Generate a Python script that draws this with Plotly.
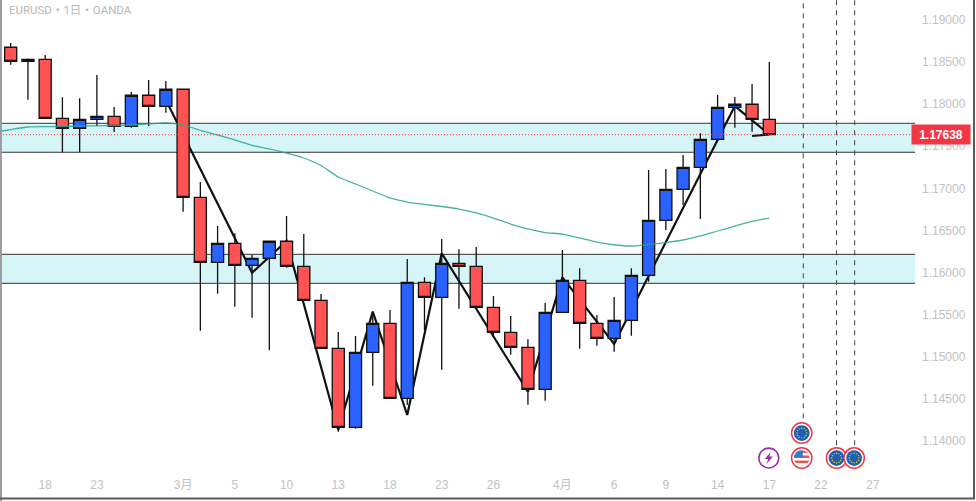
import base64
import math
import plotly.graph_objects as go

title_text = "EURUSD・1日・OANDA"
last_price = 1.17638
last_label = "1.17638"

opens = [1.18676, 1.18509, 1.18533, 1.17832, 1.17714, 1.17820, 1.17856, 1.17737, 1.18106, 1.17975,
         1.18177, 1.16894, 1.16122, 1.16348, 1.16087, 1.16170, 1.16372, 1.16075, 1.15671, 1.15101,
         1.14163, 1.15053, 1.15398, 1.14507, 1.15885, 1.15707, 1.16110, 1.16075, 1.15588, 1.15291,
         1.15113, 1.14614, 1.15528, 1.15908, 1.15398, 1.15220, 1.15433, 1.15968, 1.16621, 1.16989,
         1.17250, 1.17583, 1.17963, 1.17999, 1.17820]
highs = [1.18727, 1.18543, 1.18584, 1.18082, 1.18070, 1.18347, 1.17967, 1.18145, 1.18287, 1.18275,
         1.18177, 1.17076, 1.16553, 1.16467, 1.16209, 1.16372, 1.16672, 1.16458, 1.15746, 1.15294,
         1.15247, 1.15485, 1.15556, 1.16161, 1.15944, 1.16399, 1.16277, 1.16304, 1.15722, 1.15485,
         1.15208, 1.15639, 1.16268, 1.16051, 1.15496, 1.15710, 1.16051, 1.17218, 1.17230, 1.17397,
         1.17654, 1.18109, 1.18085, 1.18240, 1.18501]
lows = [1.18469, 1.18053, 1.17832, 1.17429, 1.17429, 1.17741, 1.17670, 1.17721, 1.17741, 1.17899,
        1.16723, 1.15310, 1.15749, 1.15595, 1.15464, 1.15077, 1.16058, 1.15671, 1.15101, 1.14110,
        1.14146, 1.14657, 1.14507, 1.14428, 1.15318, 1.14847, 1.15571, 1.15588, 1.15239, 1.15025,
        1.14431, 1.14479, 1.15528, 1.15096, 1.15132, 1.15061, 1.15251, 1.15892, 1.16506, 1.16803,
        1.16636, 1.17563, 1.17721, 1.17673, 1.17630]
closes = [1.18509, 1.18533, 1.17832, 1.17714, 1.17820, 1.17856, 1.17737, 1.18106, 1.17975, 1.18177,
          1.16894, 1.16122, 1.16348, 1.16087, 1.16170, 1.16372, 1.16075, 1.15671, 1.15101, 1.14163,
          1.15053, 1.15398, 1.14507, 1.15885, 1.15707, 1.16110, 1.16075, 1.15588, 1.15291, 1.15113,
          1.14614, 1.15528, 1.15908, 1.15398, 1.15220, 1.15433, 1.15968, 1.16621, 1.16989, 1.17250,
          1.17583, 1.17963, 1.17999, 1.17820, 1.17638]
candle_x = list(range(45))

ma_x = [-0.62] + candle_x
ma_values = [1.17678, 1.17699, 1.17729, 1.17733, 1.17735, 1.17741, 1.17743, 1.17747, 1.17753, 1.17765,
             1.17777, 1.17753, 1.17688, 1.17634, 1.17575, 1.17512, 1.17468, 1.17420, 1.17361, 1.17272,
             1.17135, 1.17052, 1.16969, 1.16886, 1.16838, 1.16809, 1.16785, 1.16755, 1.16708, 1.16648,
             1.16577, 1.16518, 1.16476, 1.16458, 1.16411, 1.16363, 1.16331, 1.16316, 1.16334, 1.16355,
             1.16387, 1.16435, 1.16494, 1.16553, 1.16607, 1.16648]

zigzag_x = [9, 14, 16, 19, 21, 23, 25, 30, 32, 35, 42, 44, 43]
zigzag_y = [1.18050, 1.15999, 1.16375, 1.14131, 1.15536, 1.14309, 1.16229, 1.14585, 1.15944, 1.15152,
            1.17978, 1.17640, 1.17622]

band_tops = [1.17773, 1.16217]
band_bottoms = [1.17429, 1.15873]

event_lines_x = [45.97, 47.9, 48.95]
event_lines_bottom = [1.14270, 1.13950, 1.13950]

x_tick_vals = [2, 5, 10, 13, 16, 19, 22, 25, 28, 32, 35, 38, 41, 44, 47, 50]
x_tick_text = ["18", "23", "3月", "5", "10", "13", "18", "23", "26", "4月", "6", "9", "14", "17", "22", "27"]
y_tick_vals = [1.14, 1.145, 1.15, 1.155, 1.16, 1.165, 1.17, 1.175, 1.18, 1.185, 1.19]

icon_kinds = ["eu", "bolt", "us", "eu", "eu"]
icon_x = [45.88, 43.97, 45.88, 47.9, 48.92]
icon_y = [1.14095, 1.13798, 1.13798, 1.13798, 1.13798]

X_RANGE = [-0.62, 52.45]
Y_RANGE = [1.13656, 1.19237]
TICK_COLOR = "#c2c2c2"
FONT = "Liberation Sans, Arial, sans-serif"


def eu_svg():
    stars = ""
    for k in range(12):
        a = k * math.pi / 6
        stars += f'<circle cx="{22 + 9.5 * math.cos(a):.2f}" cy="{22 + 9.5 * math.sin(a):.2f}" r="1.4" fill="#f4d22e"/>'
    return ('<svg xmlns="http://www.w3.org/2000/svg" width="44" height="44" viewBox="0 0 44 44">'
            '<circle cx="22" cy="22" r="20" fill="#fff" stroke="#f23645" stroke-width="3"/>'
            '<circle cx="22" cy="22" r="15.5" fill="#1d5fb0"/>' + stars + '</svg>')


def us_svg():
    stripes = ""
    for k, yy in enumerate(range(7, 38, 5)):
        c = "#ef5350" if k % 2 == 0 else "#ffffff"
        stripes += f'<rect x="6" y="{yy}" width="32" height="5" fill="{c}"/>'
    return ('<svg xmlns="http://www.w3.org/2000/svg" width="44" height="44" viewBox="0 0 44 44">'
            '<defs><clipPath id="c"><circle cx="22" cy="22" r="15.5"/></clipPath></defs>'
            '<circle cx="22" cy="22" r="20" fill="#fff" stroke="#f23645" stroke-width="3"/>'
            '<g clip-path="url(#c)">' + stripes +
            '<rect x="6" y="6" width="18" height="15" fill="#2b7de0"/></g></svg>')


def bolt_svg():
    return ('<svg xmlns="http://www.w3.org/2000/svg" width="44" height="44" viewBox="0 0 44 44">'
            '<circle cx="22" cy="22" r="19.5" fill="#fff" stroke="#9c27b0" stroke-width="3"/>'
            '<path d="M26 10 L14 24 L21 24 L17 34 L30 19 L23 19 Z" fill="#9c27b0"/></svg>')


SVGS = {"eu": eu_svg(), "us": us_svg(), "bolt": bolt_svg()}


def uri(svg):
    return "data:image/svg+xml;base64," + base64.b64encode(svg.encode()).decode()


fig = go.Figure()

fig.add_trace(go.Scatter(x=zigzag_x, y=zigzag_y, mode="lines", xaxis="x", yaxis="y",
                         line=dict(color="#111111", width=2.2), hoverinfo="skip"))
fig.add_trace(go.Candlestick(x=candle_x, open=opens, high=highs, low=lows, close=closes,
                             xaxis="x2", yaxis="y2",
                             increasing=dict(fillcolor="#2962ff", line=dict(color="#111111", width=1.3)),
                             decreasing=dict(fillcolor="#ff5252", line=dict(color="#111111", width=1.3))))
fig.add_trace(go.Scatter(x=ma_x, y=ma_values, mode="lines", xaxis="x2", yaxis="y2",
                         line=dict(color="rgba(38,166,145,0.85)", width=1.3, shape="spline", smoothing=0.6),
                         hoverinfo="skip"))

shapes = []
for top, bottom in zip(band_tops, band_bottoms):
    shapes.append(dict(type="rect", xref="x domain", yref="y", x0=0, x1=1, y0=bottom, y1=top, layer="below",
                       fillcolor="#d6f5f7", line=dict(width=0)))
    for edge in (top, bottom):
        shapes.append(dict(type="line", xref="x domain", yref="y", x0=0, x1=1, y0=edge, y1=edge, layer="below",
                           line=dict(color="#333333", width=1)))
for ex, eb in zip(event_lines_x, event_lines_bottom):
    shapes.append(dict(type="line", xref="x", yref="y", x0=ex, x1=ex, y0=eb, y1=Y_RANGE[1], layer="above",
                       line=dict(color="#444444", width=1, dash="5px,5px")))
shapes.append(dict(type="line", xref="x domain", yref="y", x0=0, x1=1, y0=last_price, y1=last_price, layer="above",
                   line=dict(color="#f23645", width=1, dash="1px,2px")))
# window frame
shapes.append(dict(type="line", xref="paper", yref="paper", x0=0.001, x1=0.001, y0=-31 / 470, y1=1,
                   line=dict(color="#9a9a9a", width=2)))
shapes.append(dict(type="line", xref="paper", yref="paper", x0=0, x1=975 / 915, y0=-28.5 / 470, y1=-28.5 / 470,
                   line=dict(color="#5a5a5a", width=2)))
shapes.append(dict(type="line", xref="paper", yref="paper", x0=974 / 915, x1=974 / 915, y0=-28.5 / 470, y1=1,
                   line=dict(color="#5a5a5a", width=2)))

images = []
for kind, ix, iy in zip(icon_kinds, icon_x, icon_y):
    images.append(dict(source=uri(SVGS[kind]), xref="x", yref="y", x=ix, y=iy, sizex=1.3, sizey=0.00266,
                       xanchor="center", yanchor="middle", sizing="stretch", layer="above"))

fig.update_layout(
    width=976, height=501, showlegend=False,
    margin=dict(l=0, r=61, t=0, b=31, pad=0),
    paper_bgcolor="#ffffff", plot_bgcolor="#ffffff",
    boxgap=0.3, boxgroupgap=0,
    font=dict(family=FONT, size=12, color=TICK_COLOR),
    shapes=shapes, images=images,
    xaxis=dict(range=X_RANGE, domain=[0, 1], tickmode="array", tickvals=x_tick_vals, ticktext=x_tick_text,
               showgrid=False, zeroline=False, showline=False, ticks="", ticklabelstandoff=6,
               tickfont=dict(family="Liberation Sans, Noto Sans CJK JP, sans-serif", size=12, color=TICK_COLOR),
               fixedrange=True, rangeslider=dict(visible=False)),
    yaxis=dict(range=Y_RANGE, side="right", tickmode="array", tickvals=y_tick_vals, tickformat=".5f",
               showgrid=False, zeroline=False, showline=False, ticks="", ticklabelstandoff=6,
               tickfont=dict(family=FONT, size=12, color=TICK_COLOR), fixedrange=True),
    xaxis2=dict(range=X_RANGE, overlaying="x", visible=False, fixedrange=True, rangeslider=dict(visible=False)),
    yaxis2=dict(range=Y_RANGE, overlaying="y", side="right", visible=False, fixedrange=True),
    annotations=[
        dict(text=title_text, xref="paper", yref="paper", x=7 / 915, y=1 - 10 / 470, xanchor="left", yanchor="middle",
             showarrow=False, font=dict(family="Roboto, Noto Sans CJK JP, sans-serif", size=11.5, color="#b8b8b8")),
        dict(text=f"<b>{last_label}</b>", xref="paper", yref="y", x=941 / 915, y=last_price, xanchor="center",
             yanchor="middle", showarrow=False, bgcolor="#f23645", width=56, height=17,
             font=dict(family=FONT, size=12, color="#ffffff")),
    ],
)

fig.write_html("out.html", include_plotlyjs=True, config={"displayModeBar": False},
               post_script="document.body.style.margin='0';document.body.style.overflow='hidden';")
